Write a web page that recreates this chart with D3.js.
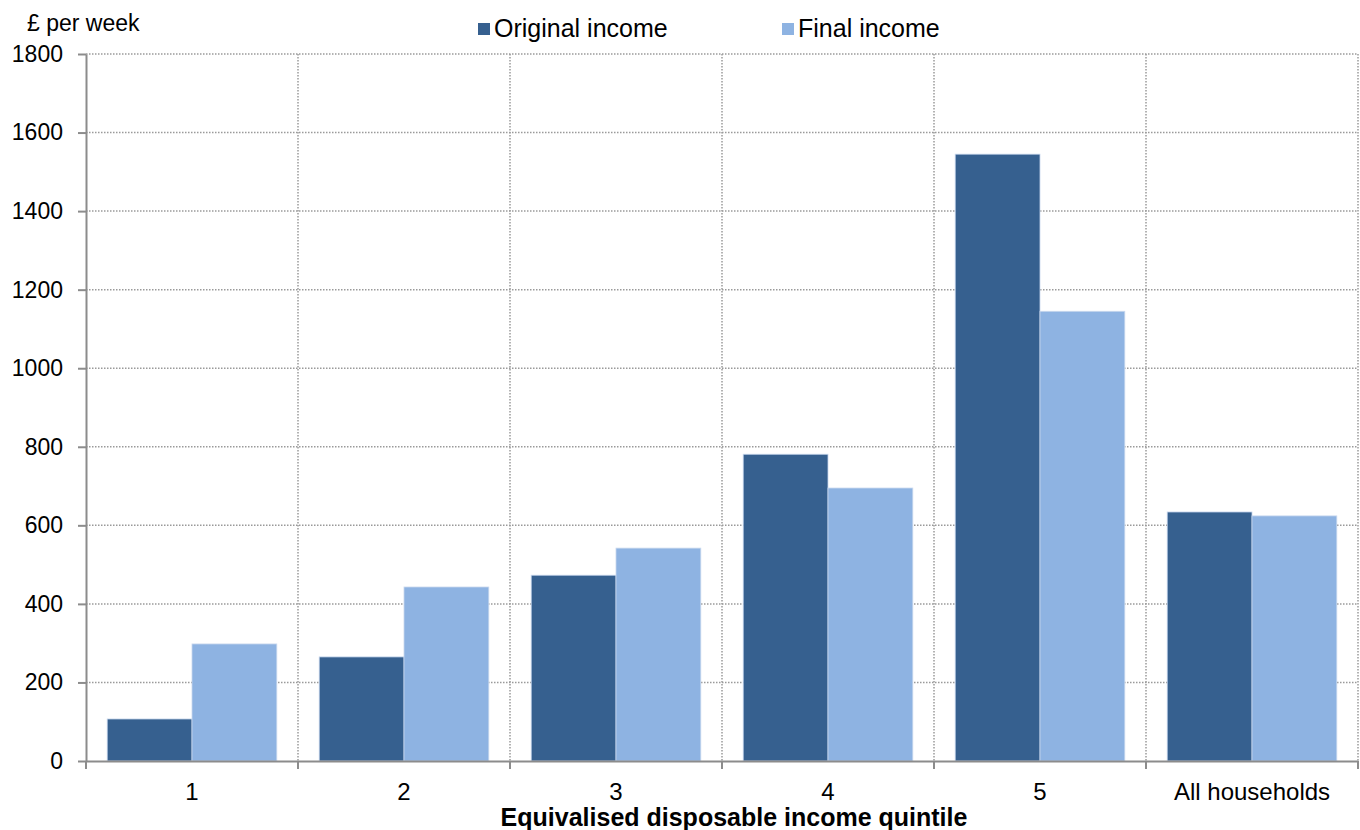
<!DOCTYPE html>
<html>
<head>
<meta charset="utf-8">
<script src="https://cdn.jsdelivr.net/npm/d3@7"></script>
<style>
  body { margin: 0; background: #fff; }
  svg text { font-family: "Liberation Sans", Arial, sans-serif; fill: #000; }
</style>
</head>
<body>
<div id="chart"></div>
<script>
// data
const categories = ["1", "2", "3", "4", "5", "All households"];
const seriesNames = ["Original income", "Final income"];
const originalIncome = [107, 265, 473, 781, 1545, 634];
const finalIncome = [298, 443, 542, 695, 1145, 624];
const yTicks = [0, 200, 400, 600, 800, 1000, 1200, 1400, 1600, 1800];
const colors = ["#36608F", "#8EB3E2"];

const width = 1360, height = 830;
const margin = {top: 54, right: 2, bottom: 69, left: 86};
const innerW = width - margin.left - margin.right;
const innerH = height - margin.top - margin.bottom;

const svg = d3.select("#chart")
    .append("svg")
    .attr("width", width)
    .attr("height", height);

const g = svg.append("g")
    .attr("transform", `translate(${margin.left},${margin.top})`);

const x = d3.scaleBand()
    .domain(categories)
    .range([0, innerW])
    .padding(0);

const x1 = d3.scaleBand()
    .domain(seriesNames)
    .range([x.bandwidth() * 0.1, x.bandwidth() * 0.9])
    .padding(0);

const y = d3.scaleLinear()
    .domain([0, 1800])
    .range([innerH, 0]);

const gridColor = "#9a9a9a";

// horizontal grid lines
g.selectAll(".hgrid")
    .data(yTicks.slice(1))
    .enter().append("line")
    .attr("class", "hgrid")
    .attr("x1", 0).attr("x2", innerW)
    .attr("y1", d => y(d)).attr("y2", d => y(d))
    .attr("stroke", gridColor)
    .attr("stroke-width", 1.5)
    .attr("stroke-dasharray", "1.5,1.5");

// vertical grid lines at category boundaries
g.selectAll(".vgrid")
    .data(categories.slice(1))
    .enter().append("line")
    .attr("class", "vgrid")
    .attr("x1", d => x(d)).attr("x2", d => x(d))
    .attr("y1", 0).attr("y2", innerH)
    .attr("stroke", gridColor)
    .attr("stroke-width", 1.5)
    .attr("stroke-dasharray", "1.5,1.5");
g.append("line")
    .attr("x1", innerW).attr("x2", innerW)
    .attr("y1", 0).attr("y2", innerH)
    .attr("stroke", gridColor)
    .attr("stroke-width", 1.5)
    .attr("stroke-dasharray", "1.5,1.5");

// bars
const rows = categories.map((c, i) => ({cat: c, values: [originalIncome[i], finalIncome[i]]}));
g.selectAll(".grp")
    .data(rows)
    .enter().append("g")
    .attr("class", "grp")
    .attr("transform", d => `translate(${x(d.cat)},0)`)
    .selectAll("rect")
    .data(d => d.values.map((v, j) => ({key: seriesNames[j], value: v, j: j})))
    .enter().append("rect")
    .attr("x", d => x1(d.key))
    .attr("y", d => y(d.value))
    .attr("width", x1.bandwidth())
    .attr("height", d => y(0) - y(d.value))
    .attr("fill", d => colors[d.j])
    .attr("stroke", "#c9d8ee")
    .attr("stroke-width", 0.8);

// y axis
const yAxis = g.append("g")
    .call(d3.axisLeft(y).tickValues(yTicks).tickFormat(d3.format("d"))
        .tickSize(8).tickPadding(15).tickSizeOuter(0));
yAxis.select(".domain").attr("stroke", "#8c8c8c").attr("stroke-width", 2);
yAxis.selectAll(".tick line").attr("stroke", "#8c8c8c").attr("stroke-width", 2);
yAxis.selectAll("text").style("font-size", "23px");

// x axis
const xAxis = g.append("g")
    .attr("transform", `translate(0,${innerH})`)
    .call(d3.axisBottom(x).tickSize(0).tickPadding(22));
xAxis.select(".domain").attr("stroke", "#8c8c8c").attr("stroke-width", 2);
xAxis.selectAll("text").style("font-size", "24px");
g.selectAll(".xtick")
    .data(categories.concat(["end"]))
    .enter().append("line")
    .attr("x1", (d, i) => i < categories.length ? x(d) : innerW)
    .attr("x2", (d, i) => i < categories.length ? x(d) : innerW)
    .attr("y1", innerH).attr("y2", innerH + 8)
    .attr("stroke", "#8c8c8c")
    .attr("stroke-width", 2);

// axis titles
svg.append("text")
    .attr("x", 27).attr("y", 31)
    .style("font-size", "23px")
    .text("£ per week");

svg.append("text")
    .attr("x", 734).attr("y", 826)
    .attr("text-anchor", "middle")
    .style("font-size", "25px")
    .style("font-weight", "bold")
    .text("Equivalised disposable income quintile");

// legend
const legendX = [478, 782];
const legend = svg.selectAll(".legend")
    .data(seriesNames)
    .enter().append("g")
    .attr("class", "legend")
    .attr("transform", (d, i) => `translate(${legendX[i]},0)`);
legend.append("rect")
    .attr("x", 0).attr("y", 23)
    .attr("width", 12).attr("height", 12)
    .attr("fill", (d, i) => colors[i]);
legend.append("text")
    .attr("x", 16).attr("y", 37)
    .style("font-size", "25px")
    .text(d => d);
</script>
</body>
</html>
